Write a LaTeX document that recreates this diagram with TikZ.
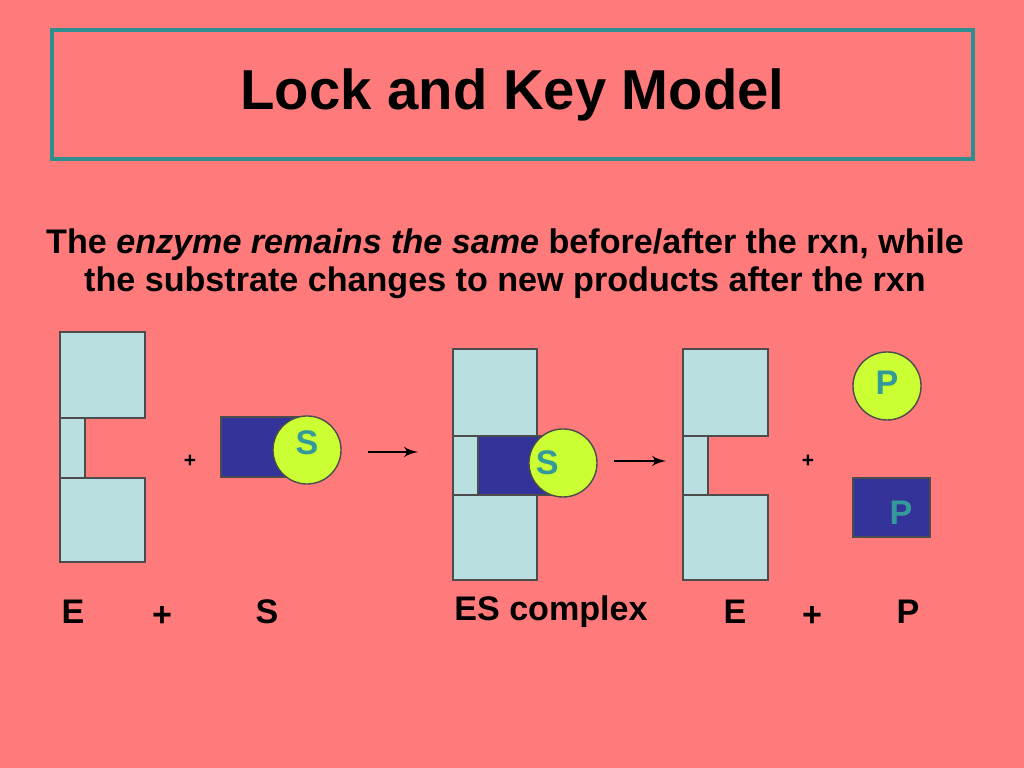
\documentclass[tikz,border=0pt]{standalone}
\usepackage{fontspec}
\setmainfont{Liberation Sans}
\usetikzlibrary{arrows}
\definecolor{bgpink}{HTML}{FF7A7A}
\definecolor{lockblue}{HTML}{B9DFE0}
\definecolor{keyblue}{HTML}{333399}
\definecolor{lime}{HTML}{CCFF33}
\definecolor{frame}{HTML}{2E8E8E}
\definecolor{ptext}{HTML}{339999}
\begin{document}
\begin{tikzpicture}[x=0.01cm,y=-0.01cm]
\tikzset{font=\bfseries}
\tikzset{block/.style = {draw=black!70,fill=lockblue,inner sep=0pt}}
\tikzset{keybox/.style = {draw=black!70,fill=keyblue,inner sep=0pt}}
\tikzset{ball/.style = {shape=circle,draw=black!70,fill=lime,minimum size=0.68cm,inner sep=0pt}}
\tikzset{edge/.style = {->,> = latex', thin}}
\tikzset{lbl/.style = {font=\bfseries\fontsize{9.7}{11}\selectfont}}
\tikzset{plus/.style = {font=\bfseries\fontsize{6}{7}\selectfont}}
% background
\fill[bgpink] (0,0) rectangle (1024,768);
\node[draw=frame,line width=1.2pt,minimum width=9.21cm,minimum height=1.29cm,
  font=\bfseries\fontsize{16}{18}\selectfont] (title) at (512.5,94.5) {Lock and Key Model};
\node[align=center,font=\bfseries\fontsize{9.7}{10.8}\selectfont] (sub) at (505,264)
  {The \textit{enzyme remains the same} before/after the rxn, while\\the substrate changes to new products after the rxn};
% enzyme
\draw[block] (60,332) rectangle (145,418);
\draw[block] (60,418) rectangle (85,478);
\draw[block] (60,478) rectangle (145,562);
% substrate
\draw[keybox] (221,417) rectangle (300,477);
\node[ball,text=ptext,lbl] (s1) at (307,450) {\raisebox{4pt}{S}};
\node[plus] (p1) at (190,461) {+};
\node (a1s) at (368,452) {};
\node (a1e) at (418,452) {};
\draw[edge] (a1s.center) -- (a1e.center);
% ES complex
\draw[block] (453,349) rectangle (537,436);
\draw[block] (453,436) rectangle (478,495);
\draw[block] (453,495) rectangle (537,580);
\draw[keybox] (478,436) rectangle (555,495);
\node[ball,text=ptext,lbl] (s2) at (563,463) {\hspace{-9pt}S};
\node (a2s) at (614,461) {};
\node (a2e) at (666,461) {};
\draw[edge] (a2s.center) -- (a2e.center);
% enzyme after
\draw[block] (683,349) rectangle (768,436);
\draw[block] (683,436) rectangle (708,495);
\draw[block] (683,495) rectangle (768,580);
\node[plus] (p2) at (808,461) {+};
% products
\node[ball,text=ptext,lbl] (pc) at (887,386) {\raisebox{2pt}{P}};
\draw[keybox] (853,478) rectangle (930,537);
\node[lbl,text=ptext] (pr) at (901,513) {P};
% labels
\node[lbl] (le1) at (73,612) {E};
\node[lbl] (lp1) at (162,617) {+};
\node[lbl] (ls) at (267,612) {S};
\node[lbl] (les) at (551,612) {ES complex};
\node[lbl] (le2) at (735,612) {E};
\node[lbl] (lp2) at (812,617) {+};
\node[lbl] (lp) at (908,612) {P};
\end{tikzpicture}
\end{document}
